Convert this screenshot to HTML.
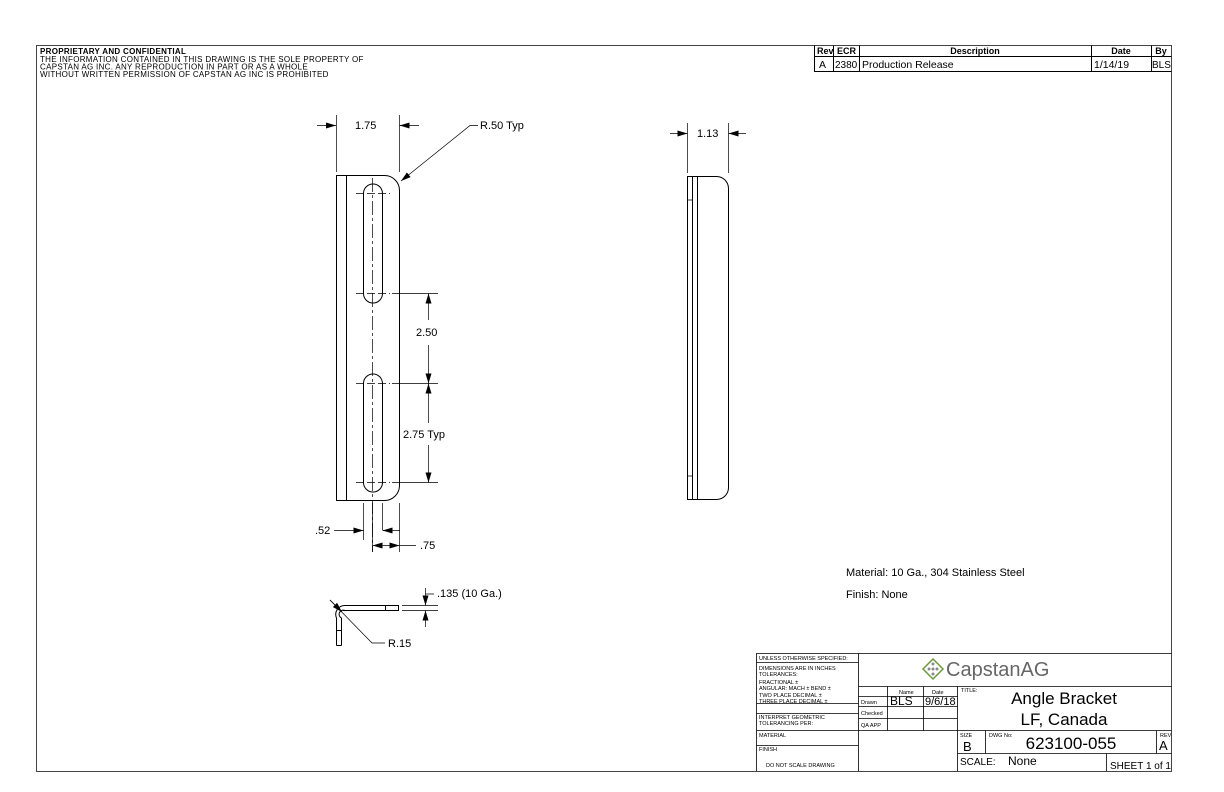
<!DOCTYPE html>
<html><head><meta charset="utf-8"><style>
html,body{margin:0;padding:0;background:#fff;}
svg{display:block;font-family:"Liberation Sans",sans-serif;}
</style></head><body>
<svg width="1224" height="792" viewBox="0 0 1224 792" xmlns="http://www.w3.org/2000/svg">
<defs>
<marker id="a" viewBox="0 0 10 6" refX="10" refY="3" markerWidth="10" markerHeight="6" orient="auto" markerUnits="userSpaceOnUse"><path d="M0,0 L10,3 L0,6z" fill="#000"/></marker>
</defs>
<g fill="none" stroke="#444" stroke-width="1">
<rect x="36.5" y="45.5" width="1135" height="726"/>
</g>
<g font-size="8" fill="#000" letter-spacing="0.3">
<text x="40" y="54" font-weight="bold">PROPRIETARY AND CONFIDENTIAL</text>
<text x="40" y="62">THE INFORMATION CONTAINED IN THIS DRAWING IS THE SOLE PROPERTY OF</text>
<text x="40" y="69.5">CAPSTAN AG INC. ANY REPRODUCTION IN PART OR AS A WHOLE</text>
<text x="40" y="77">WITHOUT WRITTEN PERMISSION OF CAPSTAN AG INC IS PROHIBITED</text>
</g>
<!-- rev table -->
<g fill="none" stroke="#000" stroke-width="1">
<path d="M814.5 45.5V71.5H1171.5M814.5 56.5H1171.5M833.5 45.5V71.5M859.5 45.5V71.5M1091.5 45.5V71.5M1151.5 45.5V71.5"/>
</g>
<g font-size="10.5" fill="#000">
<text x="817" y="54" font-weight="bold" font-size="9">Rev</text>
<text x="837" y="54" font-weight="bold" font-size="9">ECR</text>
<text x="975" y="54" font-weight="bold" font-size="9" text-anchor="middle">Description</text>
<text x="1121" y="54" font-weight="bold" font-size="9" text-anchor="middle">Date</text>
<text x="1161" y="54" font-weight="bold" font-size="9" text-anchor="middle">By</text>
<text x="819" y="68">A</text><text x="835" y="68" font-size="10">2380</text><text x="862" y="68">Production Release</text>
<text x="1094" y="68">1/14/19</text><text x="1152" y="68" font-size="10">BLS</text>
</g>

<!-- main view -->
<g fill="none" stroke="#000" stroke-width="1">
<path d="M336.5 175.5H384.5A15 15 0 0 1 399.5 190.5V485.5A15 15 0 0 1 384.5 500.5H336.5Z"/>
<path d="M346.5 175.5V500.5"/>
<path d="M363.5 193.5A9.5 9.5 0 0 1 382.5 193.5V293.5A9.5 9.5 0 0 1 363.5 293.5Z"/>
<path d="M363.5 383.5A9.5 9.5 0 0 1 382.5 383.5V482.5A9.5 9.5 0 0 1 363.5 482.5Z"/>
</g>
<g fill="none" stroke="#000" stroke-width="0.7">
<path d="M372.5 178V552" stroke-dasharray="14,3,3,3"/>
<path d="M356 193.5H390M356 293.5H390M356 383.5H390M356 482.5H390" stroke-dasharray="8,3"/>
<path d="M392 293.5H438M392 383.5H438M392 482.5H438"/>
<path d="M336.5 172V115M399.5 172V115"/>
<path d="M317 125.5H336" marker-end="url(#a)"/><path d="M419 125.5H399.5" marker-end="url(#a)"/>
<path d="M478 125.5H470L401 181" marker-end="url(#a)"/>
<path d="M428.5 320V293.5" marker-end="url(#a)"/><path d="M428.5 345V383.5" marker-end="url(#a)"/>
<path d="M428.5 423V383.5" marker-end="url(#a)"/><path d="M428.5 445V482.5" marker-end="url(#a)"/>
<path d="M363.5 503V540M382.5 503V530M372.5 503V552M399.5 503V552"/>
<path d="M334 530.5H363.5" marker-end="url(#a)"/><path d="M400 530.5H382.5" marker-end="url(#a)"/>
<path d="M390 545.5H372.5" marker-end="url(#a)"/><path d="M390 545.5H399.5" marker-end="url(#a)"/><path d="M399.5 545.5H416"/>
</g>
<g font-size="11" fill="#000">
<text x="355" y="129">1.75</text>
<text x="480" y="129">R.50 Typ</text>
<text x="416" y="336">2.50</text>
<text x="403" y="438">2.75 Typ</text>
<text x="315" y="534">.52</text>
<text x="420" y="549">.75</text>
</g>

<!-- side view -->
<g fill="none" stroke="#000" stroke-width="1">
<path d="M687.5 176.5H716.5A12 12 0 0 1 728.5 188.5V487.5A12 12 0 0 1 716.5 499.5H687.5Z"/>
<path d="M692.5 176.5V499.5M697.5 176.5V499.5"/>
</g>
<g fill="none" stroke="#000" stroke-width="0.7">
<path d="M687.5 173V123M728.5 173V123"/>
<path d="M670 133.5H687.5" marker-end="url(#a)"/><path d="M746 133.5H728.5" marker-end="url(#a)"/>
<path d="M687.5 200H692.5M687.5 476H692.5"/>
</g>
<text x="697" y="137" font-size="11">1.13</text>

<!-- section -->
<g fill="none" stroke="#000" stroke-width="1">
<path d="M345.5 605.5H398.5V610.5H343M336.5 645.5V618M341.5 645.5V618M336.5 618A9 9 0 0 1 345.5 605.5M341.5 618A4 4 0 0 1 345 610.5"/>
<path d="M336.5 645.5H341.5M385.5 605.5V610.5M336.5 630.5H341.5"/>
</g>
<g fill="none" stroke="#000" stroke-width="0.7">
<path d="M402 605.5H438M402 610.5H438"/>
<path d="M425.5 588V605.5" marker-end="url(#a)"/><path d="M425.5 627V610.5" marker-end="url(#a)"/>
<path d="M425.5 594H434M330 600L372 643H385"/>
<path d="M330 600L342 612" marker-end="url(#a)"/>
</g>
<g font-size="11"><text x="437" y="597">.135 (10 Ga.)</text><text x="388" y="647">R.15</text></g>

<g font-size="11"><text x="846" y="576">Material: 10 Ga., 304 Stainless Steel</text><text x="846" y="598">Finish: None</text></g>

<!-- title block -->
<g fill="none" stroke="#000" stroke-width="0.8">
<path d="M756.5 771V653.5H1171.5"/>
<path d="M858.5 653.5V771M957.5 686.5V771"/>
<path d="M756.5 662.5H858.5M756.5 703.5H858.5M756.5 713.5H858.5M756.5 730.5H858.5M756.5 745.5H858.5"/>
<path d="M858.5 686.5H1171.5M858.5 696.5H957.5M858.5 706.5H957.5M858.5 718.5H957.5M858.5 730.5H1171.5"/>
<path d="M887.5 686.5V730.5M923.5 686.5V730.5"/>
<path d="M985.5 730.5V753.5M1156.5 730.5V753.5M957.5 753.5H1171.5M1106.5 753.5V771"/>
</g>
<g font-size="5.5" fill="#000">
<text x="759" y="660">UNLESS OTHERWISE SPECIFIED:</text>
<text x="759" y="670">DIMENSIONS ARE IN INCHES</text>
<text x="759" y="676">TOLERANCES:</text>
<text x="759" y="684">FRACTIONAL ±</text>
<text x="759" y="690">ANGULAR: MACH ±   BEND ±</text>
<text x="759" y="697">TWO PLACE DECIMAL   ±</text>
<text x="759" y="703">THREE PLACE DECIMAL  ±</text>
<text x="759" y="719">INTERPRET GEOMETRIC</text>
<text x="759" y="725">TOLERANCING PER:</text>
<text x="759" y="737">MATERIAL</text>
<text x="759" y="751">FINISH</text>
<text x="766" y="767">DO NOT SCALE DRAWING</text>
<text x="861" y="704">Drawn</text><text x="861" y="715">Checked</text><text x="861" y="727">QA APP</text>
<text x="899" y="694">Name</text><text x="932" y="694">Date</text>
<text x="961" y="692">TITLE:</text>
<text x="960" y="737">SIZE</text><text x="989" y="737">DWG No:</text><text x="1160" y="737">REV</text>
</g>
<g fill="none" stroke="#6a9a3a" stroke-width="1.5"><path d="M933 659L943 669L933 679L923 669Z"/></g>
<g fill="#8a8a8a"><circle cx="933" cy="664" r="1.5"/><circle cx="929" cy="669" r="1.5"/><circle cx="937" cy="669" r="1.5"/><circle cx="933" cy="674" r="1.5"/><circle cx="933" cy="669" r="1.5"/></g>
<text x="946" y="676" font-size="20" fill="#666">CapstanAG</text>
<g fill="#000">
<text x="890" y="705" font-size="12">BLS</text><text x="925" y="705" font-size="11">9/6/18</text>
<text x="1064" y="704" font-size="17" text-anchor="middle">Angle Bracket</text>
<text x="1064" y="725" font-size="17" text-anchor="middle">LF, Canada</text>
<text x="963" y="751" font-size="13">B</text>
<text x="1071" y="749" font-size="17" text-anchor="middle">623100-055</text>
<text x="1159" y="750" font-size="13">A</text>
<text x="960" y="765" font-size="10">SCALE:</text><text x="1008" y="765" font-size="12">None</text>
<text x="1110" y="769" font-size="10">SHEET 1 of 1</text>
</g>
</svg>
</body></html>
